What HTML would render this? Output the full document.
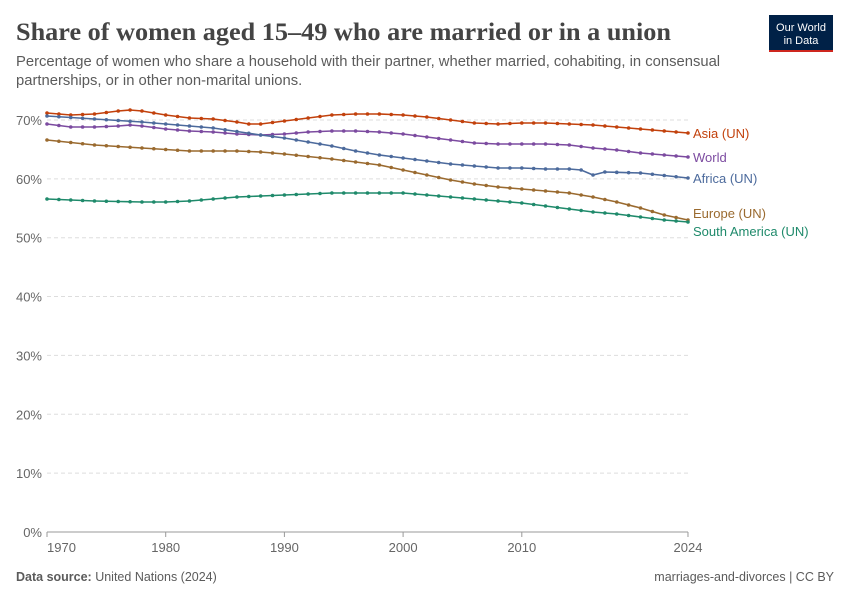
<!DOCTYPE html><html><head><meta charset="utf-8"><style>
body{margin:0;background:#fff;width:850px;height:600px;overflow:hidden;font-family:"Liberation Sans",sans-serif}
</style></head><body>
<svg id="s" width="850" height="600" xmlns="http://www.w3.org/2000/svg">
<text x="16" y="40" font-family="Liberation Serif,serif" font-size="25.5" font-weight="bold" fill="#444" textLength="655" lengthAdjust="spacingAndGlyphs">Share of women aged 15–49 who are married or in a union</text>
<text x="16" y="66" font-size="14.8" fill="#5b5b5b">Percentage of women who share a household with their partner, whether married, cohabiting, in consensual</text>
<text x="16" y="85" font-size="14.8" fill="#5b5b5b">partnerships, or in other non-marital unions.</text>
<rect x="769" y="15" width="64" height="37" fill="#002147"/>
<rect x="769" y="50" width="64" height="2" fill="#ce261e"/>
<text x="801" y="31" font-size="11" fill="#fff" text-anchor="middle">Our World</text>
<text x="801" y="44" font-size="11" fill="#fff" text-anchor="middle">in Data</text>
<g id="grid"></g><g id="ser"></g>
<text x="16" y="581" font-size="12.5" fill="#5b5b5b"><tspan font-weight="bold">Data source:</tspan> United Nations (2024)</text>
<text x="834" y="581" font-size="12.5" fill="#5b5b5b" text-anchor="end">marriages-and-divorces | CC BY</text>
</svg>
<script>
var NS="http://www.w3.org/2000/svg",g=document.getElementById('grid'),sr=document.getElementById('ser');
function el(p,t,a,txt){var e=document.createElementNS(NS,t);for(var k in a)e.setAttribute(k,a[k]);if(txt)e.textContent=txt;p.appendChild(e);return e;}
for(var i=0;i<=7;i++){var y=532-i*58.86;
 if(i>0)el(g,'line',{x1:47,x2:688,y1:y,y2:y,stroke:'#ddd','stroke-dasharray':'4,3'});
 el(g,'text',{x:42,y:y+5,'font-size':13,fill:'#666','text-anchor':'end'},i*10+'%');}
el(g,'line',{x1:47,x2:688,y1:532,y2:532,stroke:'#999'});
function X(yr){return 47+(yr-1970)*11.87;}
[1970,1980,1990,2000,2010,2024].forEach(function(d){
 el(g,'line',{x1:X(d),x2:X(d),y1:532,y2:537,stroke:'#999'});
 el(g,'text',{x:X(d),y:552,'font-size':13,fill:'#666','text-anchor':d==1970?'start':'middle'},d);});
var S=[
['#c2410c','Asia (UN)',134,{1970:113,1972:115,1974:114,1976:111,1977:110,1978:111,1980:115,1982:118,1984:119,1986:122,1987:124,1988:124,1990:121,1992:118,1994:115,1996:114,1998:114,2000:115,2002:117,2004:120,2006:123,2008:124,2010:123,2012:123,2014:124,2016:125,2018:127,2020:129,2022:131,2024:133}],
['#7c4ba0','World',158,{1970:124,1972:127,1974:127,1976:126,1977:125,1978:126,1980:129,1982:131,1984:132,1986:134,1988:135,1990:134,1992:132,1994:131,1996:131,1998:132,2000:134,2002:137,2004:140,2006:143,2008:144,2010:144,2012:144,2014:145,2016:148,2018:150,2020:153,2022:155,2024:157}],
['#4c6a9c','Africa (UN)',179,{1970:116,1974:119,1978:122,1980:124,1984:128,1988:135,1990:138,1992:142,1994:146,1996:151,1998:155,2000:158,2002:161,2004:164,2006:166,2008:168,2010:168,2012:169,2014:169,2015:170,2016:175,2017:172,2020:173,2024:178}],
['#9a6a2f','Europe (UN)',214,{1970:140,1974:145,1978:148,1982:151,1986:151,1988:152,1990:154,1994:159,1998:165,2000:170,2002:175,2004:180,2006:184,2008:187,2010:189,2012:191,2014:193,2016:197,2018:202,2020:208,2022:215,2024:220}],
['#1f8a6b','South America (UN)',232,{1970:199,1974:201,1978:202,1980:202,1982:201,1984:199,1986:197,1988:196,1990:195,1994:193,2000:193,2002:195,2004:197,2006:199,2008:201,2010:203,2012:206,2014:209,2016:212,2018:214,2020:217,2022:220,2024:222}]];
S.forEach(function(s){var k=Object.keys(s[3]).map(Number).sort(function(a,b){return a-b}),pts=[];
 for(var yr=1970;yr<=2024;yr++){var j=0;while(k[j+1]!==undefined&&k[j+1]<yr)j++;var a=k[j],b=k[j+1];var y;
  if(yr==a)y=s[3][a];else if(b===undefined)y=s[3][a];else y=s[3][a]+(s[3][b]-s[3][a])*(yr-a)/(b-a);
  pts.push([X(yr),y]);}
 el(sr,'polyline',{points:pts.map(function(p){return p.join(',')}).join(' '),fill:'none',stroke:s[0],'stroke-width':1.6});
 pts.forEach(function(p){el(sr,'circle',{cx:p[0],cy:p[1],r:1.8,fill:s[0]});});
 el(sr,'text',{x:693,y:s[2]+4,'font-size':13,fill:s[0]},s[1]);});
</script></body></html>
